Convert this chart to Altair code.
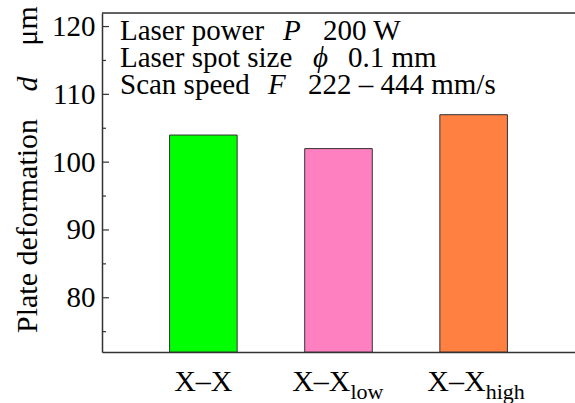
import altair as alt
import pandas as pd

# ---- data ----
cat_keys = ["XX", "XXlow", "XXhigh"]
main_labels = ["X–X", "X–X", "X–X"]
sub_labels = ["", "low", "high"]
values = [104, 102, 107]
bar_colors = ["#00FF00", "#FF80C0", "#FF8040"]
y_domain = [72, 122]
y_major = [80, 90, 100, 110, 120]
y_minor = [75, 85, 95, 105, 115]
ann_labels = ["Laser power", "Laser spot size", "Scan speed"]
ann_symbols = ["P", "ϕ", "F"]
ann_values = ["200 W", "0.1 mm", "222 – 444 mm/s"]
y_title_parts = ["Plate deformation", "d", "μm"]

W, H = 473, 339
FONT = "Liberation Serif"
FS = 29
AX = "#333333"

df = pd.DataFrame({"key": cat_keys, "main": main_labels, "sub": sub_labels,
                   "value": values, "base": [y_domain[0]] * 3})

y_scale = alt.Scale(domain=y_domain, nice=False, zero=False)
y_axis = alt.Axis(values=y_major, ticks=False, labelPadding=7, labelFont=FONT,
                  labelFontSize=FS, labelColor="black", domainColor=AX,
                  domainWidth=1.5, grid=False, title=None)
x_enc = alt.X("key:N", sort=cat_keys,
              scale=alt.Scale(paddingInner=0.5, paddingOuter=0.5),
              axis=alt.Axis(labels=False, ticks=False, domainColor=AX,
                            domainWidth=1.5, title=None, grid=False))

bars = alt.Chart(df).mark_bar(stroke=AX, strokeWidth=1).encode(
    x=x_enc,
    y=alt.Y("value:Q", scale=y_scale, axis=y_axis),
    y2="base:Q",
    color=alt.Color("key:N", scale=alt.Scale(domain=cat_keys, range=bar_colors), legend=None),
)

# inward ticks
maj = alt.Chart(pd.DataFrame({"value": y_major})).mark_rule(color=AX, strokeWidth=1.2).encode(
    y=alt.Y("value:Q", scale=y_scale, axis=y_axis), x=alt.value(0), x2=alt.value(7))
mnr = alt.Chart(pd.DataFrame({"value": y_minor})).mark_rule(color=AX, strokeWidth=1.2).encode(
    y=alt.Y("value:Q", scale=y_scale, axis=y_axis), x=alt.value(0), x2=alt.value(4))

top = alt.Chart(pd.DataFrame({"a": [0]})).mark_rule(color=AX, strokeWidth=1.5).encode(
    x=alt.value(0), x2=alt.value(W), y=alt.value(0))

# x labels
XFS = 30
plain = alt.Chart(df).transform_filter("datum.sub === ''").mark_text(
    font=FONT, fontSize=XFS, color="black", align="center", baseline="alphabetic").encode(
    x=x_enc, y=alt.value(H + 39), text="main:N")
withsub_main = alt.Chart(df).transform_filter("datum.sub !== ''").mark_text(
    font=FONT, fontSize=XFS, color="black", align="right", baseline="alphabetic", dx=12).encode(
    x=x_enc, y=alt.value(H + 39), text="main:N")
withsub_sub = alt.Chart(df).transform_filter("datum.sub !== ''").mark_text(
    font=FONT, fontSize=22, color="black", align="left", baseline="alphabetic", dx=12).encode(
    x=x_enc, y=alt.value(H + 47), text="sub:N")


def txt(s, x, y, italic=False, size=FS, align="left", angle=0, baseline="alphabetic"):
    kw = dict(font=FONT, fontSize=size, color="black", align=align,
              baseline=baseline, text=s)
    if italic:
        kw["fontStyle"] = "italic"
    if angle:
        kw["angle"] = angle
    return alt.Chart(pd.DataFrame({"a": [0]})).mark_text(**kw).encode(
        x=alt.value(x), y=alt.value(y))


ann = []
lab_x = 18
sym_x = [181, 211, 166]
val_x = [221, 246, 206]
base_y = [27, 54, 81]
for i in range(3):
    ann.append(txt(ann_labels[i], lab_x, base_y[i]))
    ann.append(txt(ann_symbols[i], sym_x[i], base_y[i], italic=True))
    ann.append(txt(ann_values[i], val_x[i], base_y[i]))

ytitle = [
    txt(y_title_parts[0], -74, 320, size=30, align="left", angle=270, baseline="middle"),
    txt(y_title_parts[1], -74, 71, size=30, italic=True, align="center", angle=270, baseline="middle"),
    txt(y_title_parts[2], -74, 13, size=30, align="center", angle=270, baseline="middle"),
]

chart = alt.layer(bars, maj, mnr, top, plain, withsub_main, withsub_sub, *ann, *ytitle).properties(
    width=W, height=H,
    autosize=alt.AutoSizeParams(type="none"),
    padding={"left": 102, "top": 13, "right": 0, "bottom": 51},
).configure_view(stroke=None).configure(background="white")

chart.save("out.html", embed_options={"renderer": "svg", "actions": False})
